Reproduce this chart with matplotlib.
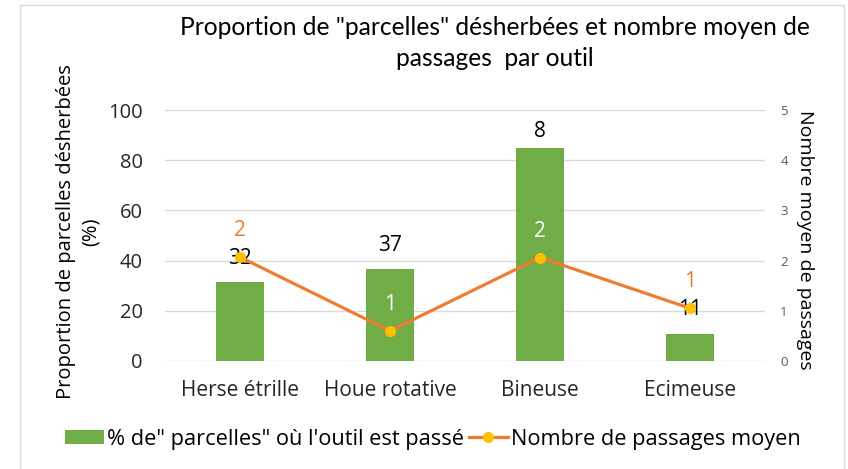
import matplotlib
matplotlib.use("Agg")
import matplotlib.pyplot as plt
from matplotlib.patches import Rectangle
from matplotlib.lines import Line2D

plt.rcParams['font.family'] = ['Open Sans', 'DejaVu Sans']

categories = ["Herse étrille", "Houe rotative", "Bineuse", "Ecimeuse"]
pct_parcelles = [31.5, 36.5, 84.8, 10.7]
pct_labels = ["32", "37", "8", "11"]
nb_passages = [2.07, 0.6, 2.06, 1.05]
passages_labels = ["2", "1", "2", "1"]

left_ticks = [0, 20, 40, 60, 80, 100]
right_ticks = [0, 1, 2, 3, 4, 5]

title = 'Proportion de "parcelles" désherbées et nombre moyen de\npassages  par outil'
left_label = "Proportion de parcelles désherbées\n(%)"
right_label = "Nombre moyen de passages"
legend_bar = '% de" parcelles" où l\'outil est passé'
legend_line = "Nombre de passages moyen"

GREEN = "#70AD47"
ORANGE = "#ED7D31"
YELLOW = "#FFC000"
GRID = "#D9D9D9"

W, H = 848, 469
fig = plt.figure(figsize=(W / 100, H / 100), dpi=100)
fig.patch.set_facecolor("white")

# outer chart border
fig.patches.append(Rectangle((20 / W, -0.02), (844 - 20) / W, 1.02 - 5 / H,
                             transform=fig.transFigure, fill=False,
                             edgecolor=GRID, linewidth=1.0))

ax = fig.add_axes([165 / W, 1 - 361 / H, (765 - 165) / W, (361 - 110) / H])
x = list(range(len(categories)))
ax.bar(x, pct_parcelles, width=0.32, color=GREEN, zorder=2)
ax.set_xlim(-0.5, len(categories) - 0.5)
ax.set_ylim(0, 100)
ax.set_yticks(left_ticks)
ax.yaxis.grid(True, color=GRID, linewidth=1.0, zorder=0)
ax.set_axisbelow(True)
for s in ax.spines.values():
    s.set_visible(False)
ax.tick_params(axis="y", length=0, pad=16, labelsize=14.5, labelcolor="#262626")
ax.tick_params(axis="x", length=0, pad=14, labelsize=15, labelcolor="#262626")
ax.set_xticks(x)
ax.set_xticklabels(categories)

bar_label_offsets = [17, 17, 12, 18]
for xi, v, lab, off in zip(x, pct_parcelles, pct_labels, bar_label_offsets):
    ax.annotate(lab, (xi, v), xytext=(0, off), textcoords="offset points",
                ha="center", va="center", fontsize=15, color="black", zorder=5,
                annotation_clip=False)

ax2 = ax.twinx()
ax2.set_ylim(0, 5)
ax2.set_yticks(right_ticks)
for s in ax2.spines.values():
    s.set_visible(False)
ax2.tick_params(axis="y", length=0, pad=11, labelsize=9.5, labelcolor="#595959")
ax2.plot(x, nb_passages, color=ORANGE, linewidth=2.3, marker="o",
         markersize=7, markerfacecolor=YELLOW, markeredgecolor=YELLOW, zorder=3)

line_label_colors = [ORANGE, "white", "white", ORANGE]
for xi, v, lab, c in zip(x, nb_passages, passages_labels, line_label_colors):
    ax2.annotate(lab, (xi, v), xytext=(0, 19), textcoords="offset points",
                 ha="center", va="center", fontsize=15, color=c, zorder=6)

fig.text(495 / W, 1 - 43 / H, title, ha="center", va="center", fontsize=17.7,
         linespacing=1.45, color="black", family=['Lato', 'DejaVu Sans'])
fig.text(78 / W, 1 - 232 / H, left_label, rotation=90, ha="center", va="center",
         fontsize=14.5, multialignment="center", color="black", linespacing=1.3)
fig.text(805 / W, 1 - 240 / H, right_label, rotation=270, ha="center", va="center",
         fontsize=14, color="black")

handles = [
    Rectangle((0, 0), 1, 1, facecolor=GREEN, edgecolor="none"),
    Line2D([0], [0], color=ORANGE, linewidth=2.3, marker="o", markersize=7,
           markerfacecolor=YELLOW, markeredgecolor=YELLOW),
]
fig.legend(handles, [legend_bar, legend_line], loc="center",
           bbox_to_anchor=(433 / W, 1 - 439 / H), ncol=2, frameon=False,
           fontsize=15.7, handlelength=1.8, handleheight=0.6, handletextpad=0.14,
           columnspacing=0.2, borderpad=0)

fig.savefig("out.png", dpi=100)
